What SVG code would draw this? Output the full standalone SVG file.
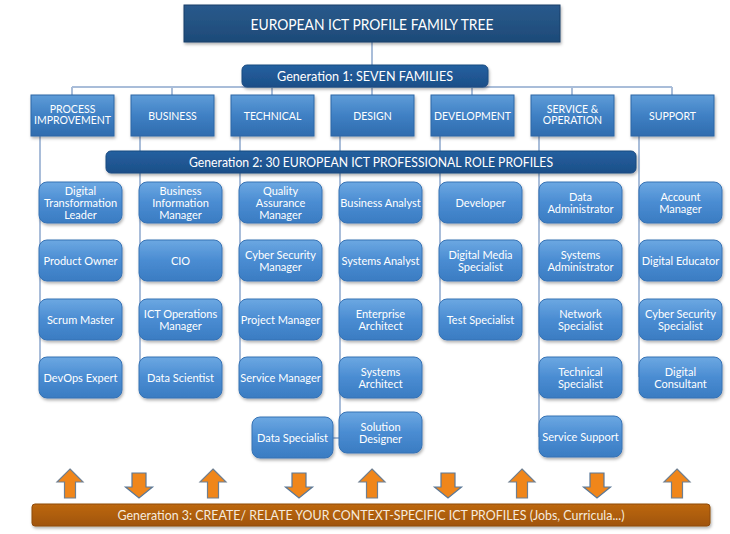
<svg xmlns="http://www.w3.org/2000/svg" width="730" height="534" viewBox="0 0 730 534">
<defs>
<linearGradient id="gTitle" x1="0" y1="0" x2="0" y2="1"><stop offset="0" stop-color="#2a5a8c"/><stop offset="1" stop-color="#1d4a78"/></linearGradient>
<linearGradient id="gGen" x1="0" y1="0" x2="0" y2="1"><stop offset="0" stop-color="#2560a0"/><stop offset="1" stop-color="#1c4f88"/></linearGradient>
<linearGradient id="gFam" x1="0" y1="0" x2="0" y2="1"><stop offset="0" stop-color="#5e9cd8"/><stop offset="0.5" stop-color="#3f80c4"/><stop offset="1" stop-color="#2f6cae"/></linearGradient>
<linearGradient id="gRole" x1="0" y1="0" x2="0" y2="1"><stop offset="0" stop-color="#6ca8e2"/><stop offset="0.5" stop-color="#4a8cd2"/><stop offset="1" stop-color="#3a7cc2"/></linearGradient>
<linearGradient id="gG3" x1="0" y1="0" x2="0" y2="1"><stop offset="0" stop-color="#bd6812"/><stop offset="1" stop-color="#a0540a"/></linearGradient>
<filter id="sh" x="-10%" y="-10%" width="125%" height="140%"><feDropShadow dx="1" dy="2" stdDeviation="1.5" flood-color="#000" flood-opacity="0.3"/></filter>
</defs>
<style>
text{font-family:Lato,"Liberation Sans",sans-serif;fill:#fff;text-anchor:middle}
.title{fill:url(#gTitle);stroke:#183f68;stroke-width:1}
.gen{fill:url(#gGen);stroke:#1a4a80;stroke-width:1}
.fam{fill:url(#gFam);stroke:#2c66a6;stroke-width:1}
.role{fill:url(#gRole);stroke:#3672b4;stroke-width:1}
.g3{fill:url(#gG3);stroke:#8e4a08;stroke-width:1}
.ln{stroke:#a9bdd9;stroke-width:2;fill:none}
.famt{font-size:10.5px}
.rt{font-size:11px}
.up{fill:#f0861a;stroke:#6f7f90;stroke-width:1.2}
.dn{fill:#f0861a;stroke:#5a7898;stroke-width:1.2}
</style>
<rect width="730" height="534" fill="#fff"/>
<g id="connectors">
<path class="ln" d="M372 42V65M72 87H672M72 87V95M172 87V95M272 87V95M372 87V95M472 87V95M572 87V95M672 87V95"/>
<path class="ln" d="M40 136V377M140 136V377M240 136V377M340 136V432M440 136V319M539 136V437M639 136V377M333 438H340"/>
</g>
<g id="title"><rect class="title" x="184" y="5" width="376" height="37" filter="url(#sh)"/><text x="372" y="29.5" font-size="16" textLength="243" lengthAdjust="spacingAndGlyphs">EUROPEAN ICT PROFILE FAMILY TREE</text></g>
<g id="gen1"><rect class="gen" x="242" y="65" width="246" height="22" rx="5" filter="url(#sh)"/><text x="365" y="81" font-size="13.5" textLength="176" lengthAdjust="spacingAndGlyphs">Generation 1: SEVEN FAMILIES</text></g>
<g id="fam-process"><rect class="fam" x="31" y="95" width="83" height="41" filter="url(#sh)"/><text class="famt" x="72.5" y="113">PROCESS</text><text class="famt" x="72.5" y="124">IMPROVEMENT</text></g>
<g id="fam-business"><rect class="fam" x="131" y="95" width="83" height="41" filter="url(#sh)"/><text class="famt" x="172.5" y="119.5">BUSINESS</text></g>
<g id="fam-technical"><rect class="fam" x="231" y="95" width="83" height="41" filter="url(#sh)"/><text class="famt" x="272.5" y="119.5">TECHNICAL</text></g>
<g id="fam-design"><rect class="fam" x="331" y="95" width="83" height="41" filter="url(#sh)"/><text class="famt" x="372.5" y="119.5">DESIGN</text></g>
<g id="fam-development"><rect class="fam" x="431" y="95" width="83" height="41" filter="url(#sh)"/><text class="famt" x="472.5" y="119.5">DEVELOPMENT</text></g>
<g id="fam-service"><rect class="fam" x="531" y="95" width="83" height="41" filter="url(#sh)"/><text class="famt" x="572.5" y="113">SERVICE &amp;</text><text class="famt" x="572.5" y="124">OPERATION</text></g>
<g id="fam-support"><rect class="fam" x="631" y="95" width="83" height="41" filter="url(#sh)"/><text class="famt" x="672.5" y="119.5">SUPPORT</text></g>
<g id="gen2"><rect class="gen" x="106" y="151" width="530" height="22" rx="5" filter="url(#sh)"/><text x="371" y="167" font-size="13.5" textLength="364" lengthAdjust="spacingAndGlyphs">Generation 2: 30 EUROPEAN ICT PROFESSIONAL ROLE PROFILES</text></g>

<g id="r-dtl"><rect class="role" x="39" y="182" width="83" height="41" rx="8" filter="url(#sh)"/><text class="rt" x="80.5" y="195">Digital</text><text class="rt" x="80.5" y="207">Transformation</text><text class="rt" x="80.5" y="219">Leader</text></g>
<g id="r-po"><rect class="role" x="39" y="240" width="83" height="41" rx="8" filter="url(#sh)"/><text class="rt" x="80.5" y="265">Product Owner</text></g>
<g id="r-sm"><rect class="role" x="39" y="299" width="83" height="41" rx="8" filter="url(#sh)"/><text class="rt" x="80.5" y="324">Scrum Master</text></g>
<g id="r-devops"><rect class="role" x="39" y="357" width="83" height="41" rx="8" filter="url(#sh)"/><text class="rt" x="80.5" y="382">DevOps Expert</text></g>

<g id="r-bim"><rect class="role" x="139" y="182" width="83" height="41" rx="8" filter="url(#sh)"/><text class="rt" x="180.5" y="195">Business</text><text class="rt" x="180.5" y="207">Information</text><text class="rt" x="180.5" y="219">Manager</text></g>
<g id="r-cio"><rect class="role" x="139" y="240" width="83" height="41" rx="8" filter="url(#sh)"/><text class="rt" x="180.5" y="265">CIO</text></g>
<g id="r-icto"><rect class="role" x="139" y="299" width="83" height="41" rx="8" filter="url(#sh)"/><text class="rt" x="180.5" y="318">ICT Operations</text><text class="rt" x="180.5" y="330">Manager</text></g>
<g id="r-ds"><rect class="role" x="139" y="357" width="83" height="41" rx="8" filter="url(#sh)"/><text class="rt" x="180.5" y="382">Data Scientist</text></g>

<g id="r-qam"><rect class="role" x="239" y="182" width="83" height="41" rx="8" filter="url(#sh)"/><text class="rt" x="280.5" y="195">Quality</text><text class="rt" x="280.5" y="207">Assurance</text><text class="rt" x="280.5" y="219">Manager</text></g>
<g id="r-csm"><rect class="role" x="239" y="240" width="83" height="41" rx="8" filter="url(#sh)"/><text class="rt" x="280.5" y="259">Cyber Security</text><text class="rt" x="280.5" y="271">Manager</text></g>
<g id="r-pm"><rect class="role" x="239" y="299" width="83" height="41" rx="8" filter="url(#sh)"/><text class="rt" x="280.5" y="324">Project Manager</text></g>
<g id="r-svm"><rect class="role" x="239" y="357" width="83" height="41" rx="8" filter="url(#sh)"/><text class="rt" x="280.5" y="382">Service Manager</text></g>

<g id="r-ba"><rect class="role" x="339" y="182" width="83" height="41" rx="8" filter="url(#sh)"/><text class="rt" x="380.5" y="207">Business Analyst</text></g>
<g id="r-sa"><rect class="role" x="339" y="240" width="83" height="41" rx="8" filter="url(#sh)"/><text class="rt" x="380.5" y="265">Systems Analyst</text></g>
<g id="r-ea"><rect class="role" x="339" y="299" width="83" height="41" rx="8" filter="url(#sh)"/><text class="rt" x="380.5" y="318">Enterprise</text><text class="rt" x="380.5" y="330">Architect</text></g>
<g id="r-sysarch"><rect class="role" x="339" y="357" width="83" height="41" rx="8" filter="url(#sh)"/><text class="rt" x="380.5" y="376">Systems</text><text class="rt" x="380.5" y="388">Architect</text></g>
<g id="r-sd"><rect class="role" x="339" y="412" width="83" height="41" rx="8" filter="url(#sh)"/><text class="rt" x="380.5" y="431">Solution</text><text class="rt" x="380.5" y="443">Designer</text></g>
<g id="r-dspec"><rect class="role" x="252" y="417" width="81" height="41" rx="8" filter="url(#sh)"/><text class="rt" x="292.5" y="442">Data Specialist</text></g>

<g id="r-dev"><rect class="role" x="439" y="182" width="83" height="41" rx="8" filter="url(#sh)"/><text class="rt" x="480.5" y="207">Developer</text></g>
<g id="r-dms"><rect class="role" x="439" y="240" width="83" height="41" rx="8" filter="url(#sh)"/><text class="rt" x="480.5" y="259">Digital Media</text><text class="rt" x="480.5" y="271">Specialist</text></g>
<g id="r-ts"><rect class="role" x="439" y="299" width="83" height="41" rx="8" filter="url(#sh)"/><text class="rt" x="480.5" y="324">Test Specialist</text></g>

<g id="r-da"><rect class="role" x="539" y="182" width="83" height="41" rx="8" filter="url(#sh)"/><text class="rt" x="580.5" y="201">Data</text><text class="rt" x="580.5" y="213">Administrator</text></g>
<g id="r-sysadm"><rect class="role" x="539" y="240" width="83" height="41" rx="8" filter="url(#sh)"/><text class="rt" x="580.5" y="259">Systems</text><text class="rt" x="580.5" y="271">Administrator</text></g>
<g id="r-ns"><rect class="role" x="539" y="299" width="83" height="41" rx="8" filter="url(#sh)"/><text class="rt" x="580.5" y="318">Network</text><text class="rt" x="580.5" y="330">Specialist</text></g>
<g id="r-techspec"><rect class="role" x="539" y="357" width="83" height="41" rx="8" filter="url(#sh)"/><text class="rt" x="580.5" y="376">Technical</text><text class="rt" x="580.5" y="388">Specialist</text></g>
<g id="r-ss"><rect class="role" x="539" y="416" width="83" height="41" rx="8" filter="url(#sh)"/><text class="rt" x="580.5" y="441">Service Support</text></g>

<g id="r-am"><rect class="role" x="639" y="182" width="83" height="41" rx="8" filter="url(#sh)"/><text class="rt" x="680.5" y="201">Account</text><text class="rt" x="680.5" y="213">Manager</text></g>
<g id="r-de"><rect class="role" x="639" y="240" width="83" height="41" rx="8" filter="url(#sh)"/><text class="rt" x="680.5" y="265">Digital Educator</text></g>
<g id="r-css"><rect class="role" x="639" y="299" width="83" height="41" rx="8" filter="url(#sh)"/><text class="rt" x="680.5" y="318">Cyber Security</text><text class="rt" x="680.5" y="330">Specialist</text></g>
<g id="r-dc"><rect class="role" x="639" y="357" width="83" height="41" rx="8" filter="url(#sh)"/><text class="rt" x="680.5" y="376">Digital</text><text class="rt" x="680.5" y="388">Consultant</text></g>

<g id="arrows">
<path class="up" d="M70 469L83 482H75.5V498H64.5V482H57Z"/>
<path class="up" d="M213 469L226 482H218.5V498H207.5V482H200Z"/>
<path class="up" d="M372 469L385 482H377.5V498H366.5V482H359Z"/>
<path class="up" d="M522 469L535 482H527.5V498H516.5V482H509Z"/>
<path class="up" d="M677 469L690 482H682.5V498H671.5V482H664Z"/>
<path class="dn" d="M132 473H146V487H152.5L139 498L125.5 487H132Z"/>
<path class="dn" d="M292 473H306V487H312.5L299 498L285.5 487H292Z"/>
<path class="dn" d="M441 473H455V487H461.5L448 498L434.5 487H441Z"/>
<path class="dn" d="M590 473H604V487H610.5L597 498L583.5 487H590Z"/>
</g>
<g id="gen3"><rect class="g3" x="32" y="504" width="678" height="22" rx="3" filter="url(#sh)"/><text x="371" y="519.5" font-size="12.5" style="fill:#f6ebdd" textLength="507" lengthAdjust="spacingAndGlyphs">Generation 3: CREATE/ RELATE YOUR CONTEXT-SPECIFIC ICT PROFILES (Jobs, Curricula...)</text></g>
</svg>
